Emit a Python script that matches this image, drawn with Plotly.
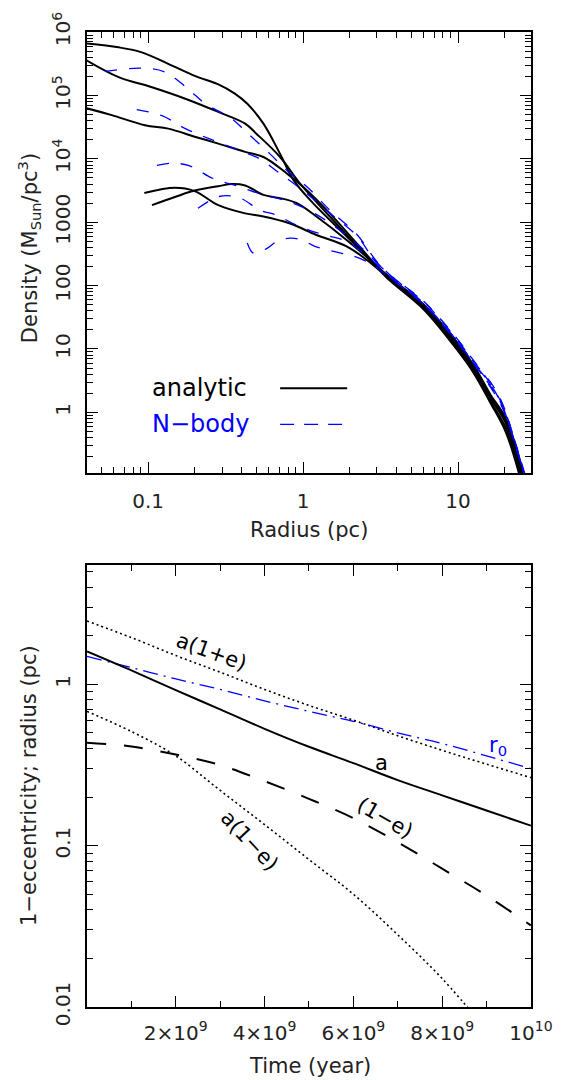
import plotly.graph_objects as go

# ---------------- Top panel data: density profiles ----------------
# analytic (black solid) curves: radius (pc), density (Msun/pc^3)
an1_r = [0.040, 0.0646, 0.0912, 0.135, 0.20, 0.282, 0.363, 0.437, 0.555, 0.711, 0.871, 1.16, 1.91, 2.99, 3.63, 6.03, 9.77, 12.6, 16.2, 20.4, 28.2]
an1_d = [6.6e5, 5.75e5, 4.8e5, 3.16e5, 2.04e5, 1.51e5, 1.07e5, 7.4e4, 3.6e4, 1.2e4, 4570, 2000, 600, 204, 135, 50, 13.2, 5.6, 1.9, 0.79, 0.063]
an2_r = [0.040, 0.0646, 0.106, 0.174, 0.284, 0.423, 0.50, 0.711, 0.957, 1.49, 2.99, 3.63, 6.03, 9.77, 12.6, 16.2, 20.4, 27.5]
an2_d = [3.6e5, 1.95e5, 1.35e5, 8.9e4, 5.5e4, 3.6e4, 2.5e4, 1.07e4, 4070, 1230, 200, 132, 46, 11.5, 5.0, 1.66, 0.66, 0.063]
an3_r = [0.040, 0.0583, 0.0955, 0.135, 0.20, 0.284, 0.423, 0.555, 0.785, 1.0, 1.49, 2.99, 3.63, 6.03, 9.77, 12.6, 16.2, 20.4, 26.9]
an3_d = [6.3e4, 4.9e4, 3.4e4, 3.0e4, 2.24e4, 1.74e4, 1.29e4, 1.07e4, 5900, 3630, 1380, 204, 126, 43.6, 10.7, 4.6, 1.5, 0.56, 0.063]
an4_r = [0.0946, 0.149, 0.20, 0.284, 0.423, 0.555, 0.824, 1.22, 1.91, 2.99, 3.63, 6.03, 9.77, 12.6, 16.2, 20.4, 26.3]
an4_d = [2900, 3500, 3100, 1860, 1380, 1230, 955, 630, 417, 190, 120, 41.7, 10.0, 4.2, 1.41, 0.48, 0.063]
an5_r = [0.106, 0.149, 0.20, 0.284, 0.347, 0.423, 0.555, 0.711, 0.912, 1.22, 1.91, 2.99, 3.63, 6.03, 9.77, 12.6, 16.2, 20.4, 27.5]
an5_d = [1860, 2500, 3160, 3700, 4000, 3800, 2700, 2400, 2000, 1230, 525, 204, 129, 48, 12.0, 5.2, 1.78, 0.72, 0.063]

# N-body (blue dashed) curves
nb1_r = [0.0528, 0.0912, 0.129, 0.182, 0.234, 0.347, 0.434, 0.612, 0.785, 1.06, 1.49, 2.24, 2.99, 3.63, 6.03, 9.77, 12.6, 16.2, 19.5, 22.9, 28.8]
nb1_d = [2.4e5, 2.7e5, 2.34e5, 1.26e5, 7.4e4, 4.3e4, 2.6e4, 1.2e4, 6600, 3630, 1550, 630, 240, 148, 56, 15, 6.6, 2.8, 1.26, 0.4, 0.063]
nb2_r = [0.0845, 0.123, 0.174, 0.245, 0.363, 0.525, 0.708, 1.0, 1.48, 2.24, 2.99, 6.03, 9.77, 12.6, 16.2, 19.5, 28.2]
nb2_d = [6.0e4, 4.8e4, 3.0e4, 2.1e4, 1.45e4, 1.0e4, 5900, 3160, 1410, 600, 230, 52, 13.8, 6.0, 2.5, 1.12, 0.063]
nb3_r = [0.114, 0.141, 0.182, 0.263, 0.389, 0.543, 0.824, 1.17, 1.78, 2.51, 3.63, 6.03, 9.77, 12.6, 16.2, 19.5, 28.2]
nb3_d = [7900, 8500, 7900, 4900, 3630, 2750, 2090, 1410, 710, 355, 145, 55, 14.5, 6.3, 3.0, 1.32, 0.063]
nb4_r = [0.21, 0.292, 0.393, 0.528, 0.679, 0.861, 1.11, 1.49, 1.81, 2.51, 3.63, 6.03, 9.77, 12.6, 16.2, 19.5, 28.2]
nb4_d = [1660, 2570, 2400, 1550, 1290, 955, 740, 600, 525, 316, 138, 50, 13.2, 5.9, 2.6, 1.2, 0.063]
nb5_r = [0.437, 0.479, 0.589, 0.679, 0.824, 0.986, 1.19, 1.45, 1.78, 2.09, 2.82, 3.63, 6.03, 9.77, 12.6, 16.2, 19.5, 28.2]
nb5_d = [470, 325, 390, 500, 560, 525, 417, 363, 324, 295, 214, 132, 50, 13.8, 6.0, 2.75, 1.2, 0.063]

top_xticks = [0.1, 1, 10]
top_xticktext = ["0.1", "1", "10"]
top_yticks = [1, 10, 100, 1000, 1e4, 1e5, 1e6]
top_yticktext = ["1", "10", "100", "1000", "10<sup>4</sup>", "10<sup>5</sup>", "10<sup>6</sup>"]

# ---------------- Bottom panel data: orbit evolution ----------------
time_yr = [0, 1e9, 2e9, 3e9, 4e9, 5e9, 6e9, 7e9, 8e9, 9e9, 1e10]
a_pc = [1.60, 1.22, 0.92, 0.70, 0.53, 0.41, 0.325, 0.255, 0.205, 0.165, 0.133]
a1pe_pc = [2.47, 1.95, 1.51, 1.19, 0.93, 0.74, 0.60, 0.48, 0.39, 0.32, 0.264]
r0_pc = [1.49, 1.27, 1.08, 0.93, 0.79, 0.68, 0.59, 0.50, 0.43, 0.36, 0.30]
one_minus_e = [0.435, 0.412, 0.367, 0.316, 0.251, 0.195, 0.148, 0.105, 0.072, 0.049, 0.032]
a1me_time = [0, 1e9, 2e9, 3e9, 4e9, 5e9, 6e9, 7e9, 8e9, 9e9]
a1me_pc = [0.68, 0.51, 0.36, 0.22, 0.135, 0.082, 0.050, 0.028, 0.015, 0.0072]

bot_xticks = [2e9, 4e9, 6e9, 8e9, 1e10]
bot_xticktext = ["2×10<sup>9</sup>", "4×10<sup>9</sup>", "6×10<sup>9</sup>", "8×10<sup>9</sup>", "10<sup>10</sup>"]
bot_yticks = [0.01, 0.1, 1]
bot_yticktext = ["0.01", "0.1", "1"]

FONT = "DejaVu Sans"
TXT = "#222222"
BLUE = "#0000ff"

fig = go.Figure()

for r, d in [(an1_r, an1_d), (an2_r, an2_d), (an3_r, an3_d), (an4_r, an4_d), (an5_r, an5_d)]:
    fig.add_trace(go.Scatter(x=r, y=d, mode="lines", xaxis="x", yaxis="y",
                             line=dict(color="black", width=2, shape="spline", smoothing=1.0),
                             showlegend=False, hoverinfo="skip"))
for r, d in [(nb1_r, nb1_d), (nb2_r, nb2_d), (nb3_r, nb3_d), (nb4_r, nb4_d), (nb5_r, nb5_d)]:
    fig.add_trace(go.Scatter(x=r, y=d, mode="lines", xaxis="x", yaxis="y",
                             line=dict(color=BLUE, width=1.3, dash="12px,12px", shape="spline", smoothing=1.0),
                             showlegend=False, hoverinfo="skip"))

# bottom panel
fig.add_trace(go.Scatter(x=time_yr, y=a1pe_pc, mode="lines", xaxis="x2", yaxis="y2",
                         line=dict(color="black", width=1.6, dash="2px,3px", shape="spline"),
                         showlegend=False, hoverinfo="skip"))
fig.add_trace(go.Scatter(x=time_yr, y=r0_pc, mode="lines", xaxis="x2", yaxis="y2",
                         line=dict(color=BLUE, width=1.3, dash="15px,6px,2px,6px", shape="spline"),
                         showlegend=False, hoverinfo="skip"))
fig.add_trace(go.Scatter(x=time_yr, y=a_pc, mode="lines", xaxis="x2", yaxis="y2",
                         line=dict(color="black", width=2, shape="spline"),
                         showlegend=False, hoverinfo="skip"))
fig.add_trace(go.Scatter(x=time_yr, y=one_minus_e, mode="lines", xaxis="x2", yaxis="y2",
                         line=dict(color="black", width=2, dash="19px,18px", shape="spline"),
                         showlegend=False, hoverinfo="skip"))
fig.add_trace(go.Scatter(x=a1me_time, y=a1me_pc, mode="lines", xaxis="x2", yaxis="y2",
                         line=dict(color="black", width=1.6, dash="2px,3px", shape="spline"),
                         showlegend=False, hoverinfo="skip"))


def minor_log(decades, upto=None):
    vals = []
    for dec in decades:
        for m in range(2, 10):
            v = m * dec
            if upto is None or v <= upto:
                vals.append(v)
    return vals


axis_common = dict(showline=True, linecolor="black", linewidth=1.5, mirror="ticks",
                   ticks="inside", ticklen=11, tickwidth=1.3, tickcolor="black",
                   showgrid=False, zeroline=False,
                   tickfont=dict(family=FONT, size=20, color=TXT))

top_dom = [0.5475, 1.0]
bot_dom = [0.0, 0.4535]

fig.update_layout(
    width=575, height=1080,
    margin=dict(l=87, r=44, t=28, b=73),
    paper_bgcolor="white", plot_bgcolor="white",
    showlegend=False,
    xaxis=dict(type="log", range=[-1.394, 1.471], domain=[0, 1], anchor="y",
               tickmode="array", tickvals=top_xticks, ticktext=top_xticktext,
               ticklabelstandoff=9,
               minor=dict(tickmode="array", tickvals=minor_log([0.01, 0.1, 1, 10], 29),
                          ticks="inside", ticklen=6, tickwidth=1.2, tickcolor="black"),
               **axis_common),
    yaxis=dict(type="log", range=[-0.96, 6.002], domain=top_dom, anchor="x",
               tickmode="array", tickvals=top_yticks, ticktext=top_yticktext, tickangle=-90,
               ticklabelstandoff=7,
               minor=dict(tickmode="array", tickvals=minor_log([0.1, 1, 10, 100, 1000, 1e4, 1e5]),
                          ticks="inside", ticklen=6, tickwidth=1.2, tickcolor="black"),
               **axis_common),
    xaxis2=dict(type="linear", range=[0, 1.0002e10], domain=[0, 1], anchor="y2",
                tickmode="array", tickvals=bot_xticks, ticktext=bot_xticktext,
                ticklabelstandoff=7,
                minor=dict(tickmode="array", tickvals=[1e9, 3e9, 5e9, 7e9, 9e9],
                           ticks="inside", ticklen=6, tickwidth=1.2, tickcolor="black"),
                **axis_common),
    yaxis2=dict(type="log", range=[-2.0005, 0.741], domain=bot_dom, anchor="x2",
                tickmode="array", tickvals=bot_yticks, ticktext=bot_yticktext, tickangle=-90,
                ticklabelstandoff=7,
                minor=dict(tickmode="array", tickvals=minor_log([0.01, 0.1, 1], 5.5),
                           ticks="inside", ticklen=6, tickwidth=1.2, tickcolor="black"),
                **axis_common),
)

title_font = dict(family=FONT, size=21, color=TXT)
ann = []
# axis titles
ann.append(dict(text="Density (M<sub>Sun</sub>/pc<sup>3</sup>)", xref="paper", yref="paper",
                x=-0.1306, y=0.7783, textangle=-90, showarrow=False,
                font=title_font, xanchor="center", yanchor="middle"))
ann.append(dict(text="Radius (pc)", xref="paper", yref="paper", x=0.5, y=0.4893,
                showarrow=False, font=title_font, xanchor="center", yanchor="middle"))
ann.append(dict(text="1−eccentricity; radius (pc)", xref="paper", yref="paper",
                x=-0.1306, y=0.2268, textangle=-90, showarrow=False,
                font=title_font, xanchor="center", yanchor="middle"))
ann.append(dict(text="Time (year)", xref="paper", yref="paper", x=0.502, y=-0.061,
                showarrow=False, font=title_font, xanchor="center", yanchor="middle"))
# legend of top panel
ann.append(dict(text="analytic", xref="x domain", yref="y domain", x=0.142, y=0.194,
                showarrow=False, font=dict(family=FONT, size=24, color="black"),
                xanchor="left", yanchor="middle"))
ann.append(dict(text="N−body", xref="x domain", yref="y domain", x=0.142, y=0.112,
                showarrow=False, font=dict(family=FONT, size=24, color=BLUE),
                xanchor="left", yanchor="middle"))
# curve labels bottom panel
lab_font = dict(family=FONT, size=21, color="black")
ann.append(dict(text="a(1+e)", xref="x2 domain", yref="y2 domain", x=0.2815, y=0.804,
                textangle=20, showarrow=False, font=lab_font, xanchor="center", yanchor="middle"))
ann.append(dict(text="a", xref="x2 domain", yref="y2 domain", x=0.6637, y=0.5525,
                showarrow=False, font=lab_font, xanchor="center", yanchor="middle"))
ann.append(dict(text="(1−e)", xref="x2 domain", yref="y2 domain", x=0.671, y=0.428,
                textangle=30, showarrow=False, font=lab_font, xanchor="center", yanchor="middle"))
ann.append(dict(text="a(1−e)", xref="x2 domain", yref="y2 domain", x=0.367, y=0.376,
                textangle=47, showarrow=False, font=lab_font, xanchor="center", yanchor="middle"))
ann.append(dict(text="r<sub>0</sub>", xref="x2 domain", yref="y2 domain", x=0.926, y=0.59,
                showarrow=False, font=dict(family=FONT, size=21, color=BLUE),
                xanchor="center", yanchor="middle"))
fig.update_layout(annotations=ann)

fig.update_layout(shapes=[
    dict(type="line", xref="x domain", yref="y domain", x0=0.435, x1=0.586, y0=0.1926, y1=0.1926,
         line=dict(color="black", width=2)),
    dict(type="line", xref="x domain", yref="y domain", x0=0.435, x1=0.575, y0=0.1106, y1=0.1106,
         line=dict(color=BLUE, width=1.3, dash="14px,10px")),
])

fig.write_html("out.html")
